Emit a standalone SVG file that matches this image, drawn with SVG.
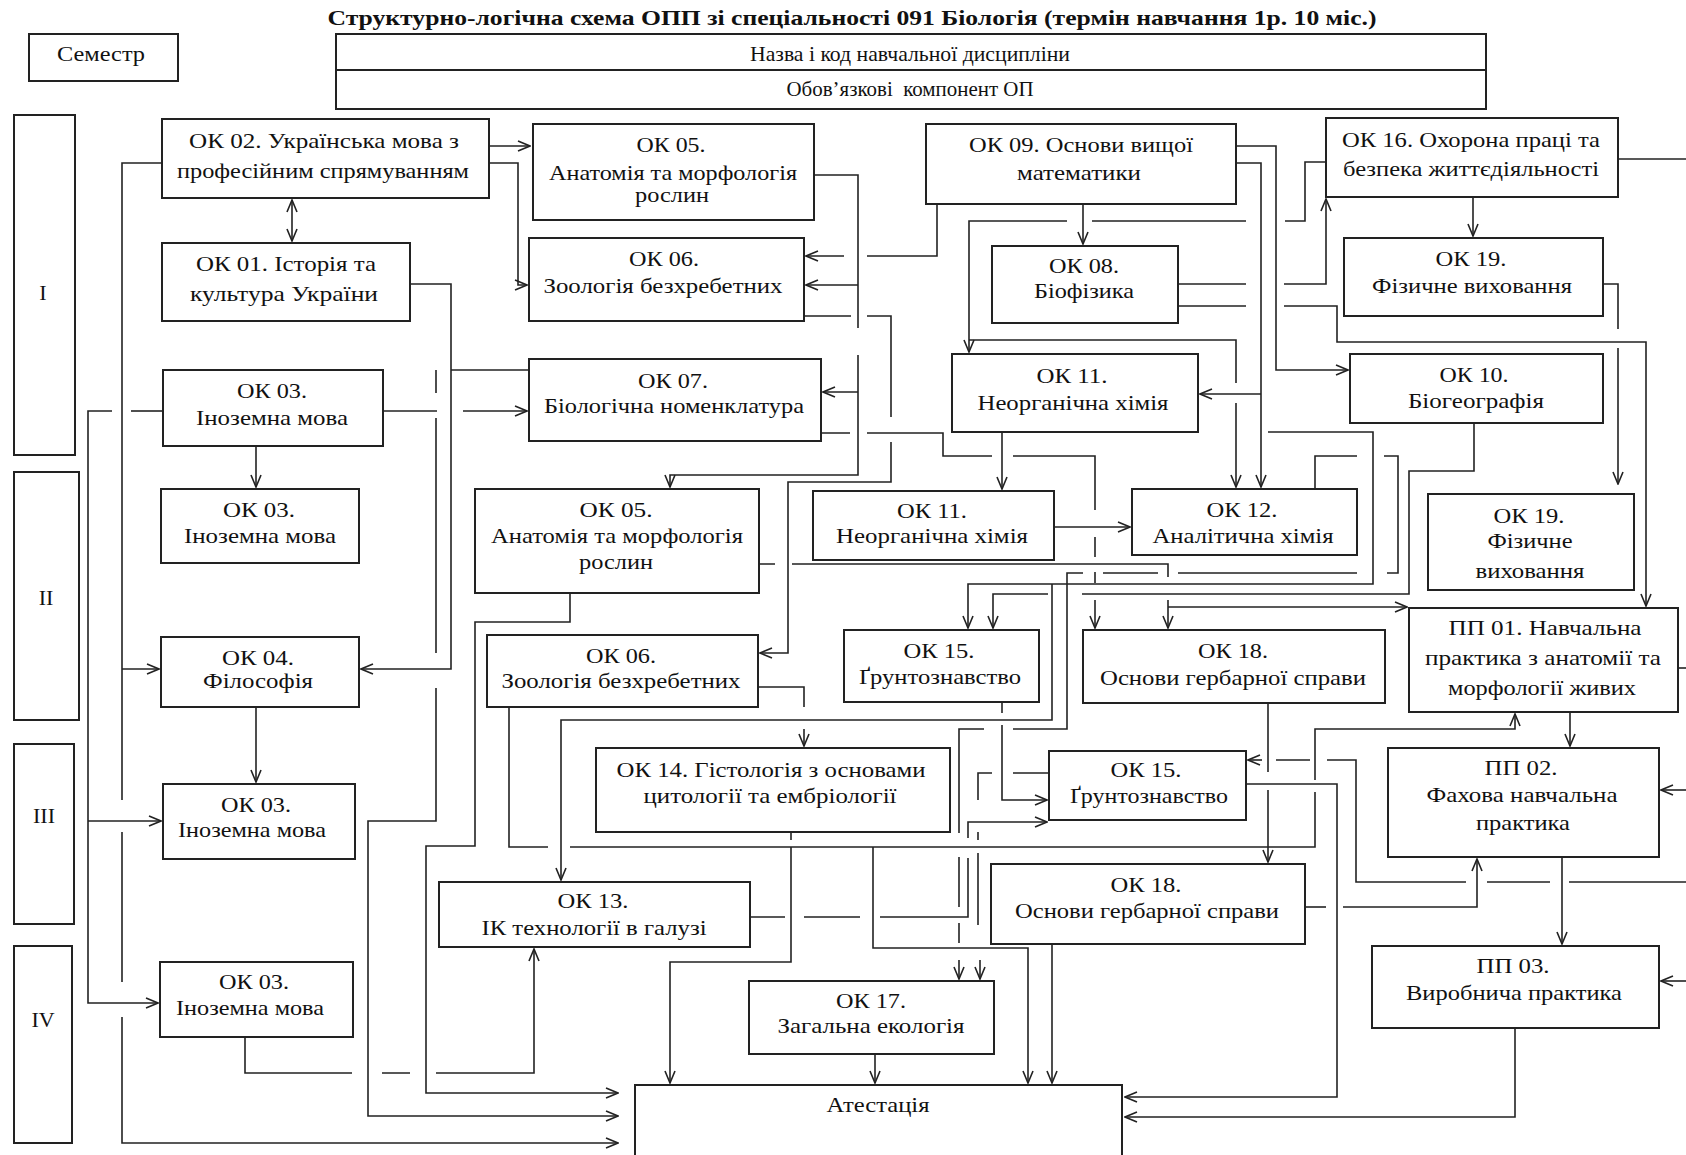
<svg xmlns="http://www.w3.org/2000/svg" width="1686" height="1155" viewBox="0 0 1686 1155">
<defs>
<style>
.b{fill:#fff;stroke:#222;stroke-width:2}
.t{font-family:"Liberation Serif","Times New Roman",serif;font-size:22px;fill:#111;text-anchor:middle}
.h{font-weight:bold}
.c{fill:none;stroke:#222;stroke-width:1.6}
.a{marker-end:url(#ar)}
</style>
<marker id="ar" viewBox="0 0 14 12" refX="13" refY="6" markerWidth="14" markerHeight="12" markerUnits="userSpaceOnUse" orient="auto-start-reverse"><path d="M1,1 L13,6 L1,11" fill="none" stroke="#222" stroke-width="1.6"/></marker>
</defs>
<rect width="1686" height="1155" fill="#fff"/>
<text class="t h" x="852" y="25" textLength="1049" lengthAdjust="spacingAndGlyphs">Структурно-логічна схема ОПП зі спеціальності 091 Біологія (термін навчання 1р. 10 міс.)</text>
<g id="semestr"><rect class="b" x="29" y="34" width="149" height="47"/><text class="t" x="101" y="61" textLength="88" lengthAdjust="spacingAndGlyphs">Семестр</text></g>
<g id="header"><rect class="b" x="336" y="34" width="1150" height="75"/><line x1="336" y1="70" x2="1486" y2="70" stroke="#222" stroke-width="2"/><text class="t" x="910" y="61" textLength="320" lengthAdjust="spacingAndGlyphs">Назва і код навчальної дисципліни</text><text class="t" x="910" y="96" textLength="247" lengthAdjust="spacingAndGlyphs" xml:space="preserve">Обов’язкові  компонент ОП</text></g>
<g id="sem1"><rect class="b" x="14" y="115" width="61" height="340"/><text class="t" x="43" y="300">I</text></g>
<g id="sem2"><rect class="b" x="14" y="472" width="65" height="248"/><text class="t" x="46" y="605">II</text></g>
<g id="sem3"><rect class="b" x="14" y="744" width="60" height="180"/><text class="t" x="44" y="823">III</text></g>
<g id="sem4"><rect class="b" x="14" y="946" width="58" height="197"/><text class="t" x="43" y="1027">IV</text></g>
<g id="ok02"><rect class="b" x="162" y="119" width="327" height="79"/><text class="t" x="324" y="148" textLength="270" lengthAdjust="spacingAndGlyphs">ОК 02. Українська мова з</text><text class="t" x="323" y="178" textLength="292" lengthAdjust="spacingAndGlyphs">професійним спрямуванням</text></g>
<g id="ok01"><rect class="b" x="162" y="243" width="248" height="78"/><text class="t" x="286" y="271" textLength="180" lengthAdjust="spacingAndGlyphs">ОК 01. Історія та</text><text class="t" x="284" y="301" textLength="188" lengthAdjust="spacingAndGlyphs">культура України</text></g>
<g id="ok05a"><rect class="b" x="533" y="124" width="281" height="96"/><text class="t" x="671" y="152" textLength="69" lengthAdjust="spacingAndGlyphs">ОК 05.</text><text class="t" x="673" y="180" textLength="248" lengthAdjust="spacingAndGlyphs">Анатомія та морфологія</text><text class="t" x="672" y="202" textLength="74" lengthAdjust="spacingAndGlyphs">рослин</text></g>
<g id="ok06a"><rect class="b" x="529" y="238" width="275" height="83"/><text class="t" x="664" y="266" textLength="70" lengthAdjust="spacingAndGlyphs">ОК 06.</text><text class="t" x="663" y="293" textLength="239" lengthAdjust="spacingAndGlyphs">Зоологія безхребетних</text></g>
<g id="ok07a"><rect class="b" x="529" y="359" width="292" height="82"/><text class="t" x="673" y="388" textLength="70" lengthAdjust="spacingAndGlyphs">ОК 07.</text><text class="t" x="674" y="413" textLength="260" lengthAdjust="spacingAndGlyphs">Біологічна номенклатура</text></g>
<g id="ok09"><rect class="b" x="926" y="124" width="310" height="80"/><text class="t" x="1081" y="152" textLength="224" lengthAdjust="spacingAndGlyphs">ОК 09. Основи вищої</text><text class="t" x="1079" y="180" textLength="124" lengthAdjust="spacingAndGlyphs">математики</text></g>
<g id="ok08"><rect class="b" x="992" y="246" width="186" height="77"/><text class="t" x="1084" y="273" textLength="70" lengthAdjust="spacingAndGlyphs">ОК 08.</text><text class="t" x="1084" y="298" textLength="100" lengthAdjust="spacingAndGlyphs">Біофізика</text></g>
<g id="ok11a"><rect class="b" x="952" y="354" width="246" height="78"/><text class="t" x="1072" y="383" textLength="71" lengthAdjust="spacingAndGlyphs">ОК 11.</text><text class="t" x="1073" y="410" textLength="191" lengthAdjust="spacingAndGlyphs">Неорганічна хімія</text></g>
<g id="ok16"><rect class="b" x="1326" y="118" width="292" height="79"/><text class="t" x="1471" y="147" textLength="258" lengthAdjust="spacingAndGlyphs">ОК 16. Охорона праці та</text><text class="t" x="1471" y="176" textLength="256" lengthAdjust="spacingAndGlyphs">безпека життєдіяльності</text></g>
<g id="ok19a"><rect class="b" x="1344" y="238" width="259" height="78"/><text class="t" x="1471" y="266" textLength="71" lengthAdjust="spacingAndGlyphs">ОК 19.</text><text class="t" x="1472" y="293" textLength="200" lengthAdjust="spacingAndGlyphs">Фізичне виховання</text></g>
<g id="ok10"><rect class="b" x="1350" y="354" width="253" height="69"/><text class="t" x="1474" y="382" textLength="69" lengthAdjust="spacingAndGlyphs">ОК 10.</text><text class="t" x="1476" y="408" textLength="136" lengthAdjust="spacingAndGlyphs">Біогеографія</text></g>
<g id="ok03a"><rect class="b" x="163" y="370" width="220" height="76"/><text class="t" x="272" y="398" textLength="70" lengthAdjust="spacingAndGlyphs">ОК 03.</text><text class="t" x="272" y="425" textLength="152" lengthAdjust="spacingAndGlyphs">Іноземна мова</text></g>
<g id="ok03b"><rect class="b" x="161" y="489" width="198" height="74"/><text class="t" x="259" y="517" textLength="72" lengthAdjust="spacingAndGlyphs">ОК 03.</text><text class="t" x="260" y="543" textLength="152" lengthAdjust="spacingAndGlyphs">Іноземна мова</text></g>
<g id="ok04"><rect class="b" x="161" y="637" width="198" height="70"/><text class="t" x="258" y="665" textLength="72" lengthAdjust="spacingAndGlyphs">ОК 04.</text><text class="t" x="258" y="688" textLength="110" lengthAdjust="spacingAndGlyphs">Філософія</text></g>
<g id="ok05b"><rect class="b" x="475" y="489" width="284" height="104"/><text class="t" x="616" y="517" textLength="73" lengthAdjust="spacingAndGlyphs">ОК 05.</text><text class="t" x="617" y="543" textLength="252" lengthAdjust="spacingAndGlyphs">Анатомія та морфологія</text><text class="t" x="616" y="569" textLength="74" lengthAdjust="spacingAndGlyphs">рослин</text></g>
<g id="ok11b"><rect class="b" x="813" y="491" width="241" height="69"/><text class="t" x="932" y="518" textLength="70" lengthAdjust="spacingAndGlyphs">ОК 11.</text><text class="t" x="932" y="543" textLength="192" lengthAdjust="spacingAndGlyphs">Неорганічна хімія</text></g>
<g id="ok12"><rect class="b" x="1132" y="489" width="225" height="66"/><text class="t" x="1242" y="517" textLength="71" lengthAdjust="spacingAndGlyphs">ОК 12.</text><text class="t" x="1243" y="543" textLength="181" lengthAdjust="spacingAndGlyphs">Аналітична хімія</text></g>
<g id="ok19b"><rect class="b" x="1428" y="494" width="206" height="96"/><text class="t" x="1529" y="523" textLength="71" lengthAdjust="spacingAndGlyphs">ОК 19.</text><text class="t" x="1530" y="548" textLength="85" lengthAdjust="spacingAndGlyphs">Фізичне</text><text class="t" x="1530" y="578" textLength="109" lengthAdjust="spacingAndGlyphs">виховання</text></g>
<g id="ok06b"><rect class="b" x="487" y="635" width="271" height="72"/><text class="t" x="621" y="663" textLength="70" lengthAdjust="spacingAndGlyphs">ОК 06.</text><text class="t" x="621" y="688" textLength="239" lengthAdjust="spacingAndGlyphs">Зоологія безхребетних</text></g>
<g id="ok15a"><rect class="b" x="844" y="630" width="195" height="72"/><text class="t" x="939" y="658" textLength="71" lengthAdjust="spacingAndGlyphs">ОК 15.</text><text class="t" x="940" y="684" textLength="162" lengthAdjust="spacingAndGlyphs">Ґрунтознавство</text></g>
<g id="ok18a"><rect class="b" x="1083" y="630" width="302" height="73"/><text class="t" x="1233" y="658" textLength="70" lengthAdjust="spacingAndGlyphs">ОК 18.</text><text class="t" x="1233" y="685" textLength="266" lengthAdjust="spacingAndGlyphs">Основи гербарної справи</text></g>
<g id="pp01"><rect class="b" x="1409" y="608" width="269" height="104"/><text class="t" x="1545" y="635" textLength="193" lengthAdjust="spacingAndGlyphs">ПП 01. Навчальна</text><text class="t" x="1543" y="665" textLength="236" lengthAdjust="spacingAndGlyphs">практика з анатомії та</text><text class="t" x="1542" y="695" textLength="188" lengthAdjust="spacingAndGlyphs">морфології живих</text></g>
<g id="ok14"><rect class="b" x="596" y="748" width="354" height="84"/><text class="t" x="771" y="777" textLength="309" lengthAdjust="spacingAndGlyphs">ОК 14. Гістологія з основами</text><text class="t" x="770" y="803" textLength="253" lengthAdjust="spacingAndGlyphs">цитології та ембріології</text></g>
<g id="ok15b"><rect class="b" x="1049" y="751" width="197" height="69"/><text class="t" x="1146" y="777" textLength="71" lengthAdjust="spacingAndGlyphs">ОК 15.</text><text class="t" x="1149" y="803" textLength="158" lengthAdjust="spacingAndGlyphs">Ґрунтознавство</text></g>
<g id="pp02"><rect class="b" x="1388" y="748" width="271" height="109"/><text class="t" x="1521" y="775" textLength="73" lengthAdjust="spacingAndGlyphs">ПП 02.</text><text class="t" x="1522" y="802" textLength="191" lengthAdjust="spacingAndGlyphs">Фахова навчальна</text><text class="t" x="1523" y="830" textLength="94" lengthAdjust="spacingAndGlyphs">практика</text></g>
<g id="ok03c"><rect class="b" x="163" y="784" width="192" height="75"/><text class="t" x="256" y="812" textLength="70" lengthAdjust="spacingAndGlyphs">ОК 03.</text><text class="t" x="252" y="837" textLength="148" lengthAdjust="spacingAndGlyphs">Іноземна мова</text></g>
<g id="ok13"><rect class="b" x="439" y="882" width="311" height="65"/><text class="t" x="593" y="908" textLength="71" lengthAdjust="spacingAndGlyphs">ОК 13.</text><text class="t" x="594" y="935" textLength="225" lengthAdjust="spacingAndGlyphs">ІК технології в галузі</text></g>
<g id="ok18b"><rect class="b" x="991" y="864" width="314" height="80"/><text class="t" x="1146" y="892" textLength="71" lengthAdjust="spacingAndGlyphs">ОК 18.</text><text class="t" x="1147" y="918" textLength="264" lengthAdjust="spacingAndGlyphs">Основи гербарної справи</text></g>
<g id="ok03d"><rect class="b" x="160" y="962" width="193" height="75"/><text class="t" x="254" y="989" textLength="70" lengthAdjust="spacingAndGlyphs">ОК 03.</text><text class="t" x="250" y="1015" textLength="148" lengthAdjust="spacingAndGlyphs">Іноземна мова</text></g>
<g id="ok17"><rect class="b" x="749" y="981" width="245" height="73"/><text class="t" x="871" y="1008" textLength="70" lengthAdjust="spacingAndGlyphs">ОК 17.</text><text class="t" x="871" y="1033" textLength="187" lengthAdjust="spacingAndGlyphs">Загальна екологія</text></g>
<g id="pp03"><rect class="b" x="1372" y="946" width="287" height="82"/><text class="t" x="1513" y="973" textLength="73" lengthAdjust="spacingAndGlyphs">ПП 03.</text><text class="t" x="1514" y="1000" textLength="216" lengthAdjust="spacingAndGlyphs">Виробнича практика</text></g>
<g id="atest"><rect class="b" x="635" y="1085" width="487" height="80"/><text class="t" x="878" y="1112" textLength="103" lengthAdjust="spacingAndGlyphs">Атестація</text></g>
<g id="connectors" class="c">
<path d="M292,200 V241" style="marker-start:url(#ar);marker-end:url(#ar)"/>
<path class="a" d="M489,146 H530"/>
<path class="a" d="M489,163 H518 V285 H527"/>
<path d="M162,163 H122 V800 M122,832 V982"/>
<path class="a" d="M122,1017 V1143 H618"/>
<path class="a" d="M122,669 H159"/>
<path class="a" d="M410,284 H451 V669 H361"/>
<path d="M451,370 H529"/>
<path d="M436,370 V393 M436,418 V653"/>
<path class="a" d="M436,688 V821 H368 V1116 H618"/>
<path d="M163,411 H131"/>
<path class="a" d="M112,411 H88 V1003 H158"/>
<path class="a" d="M88,821 H161"/>
<path d="M383,411 H437"/>
<path class="a" d="M463,411 H527"/>
<path class="a" d="M256,446 V487"/>
<path class="a" d="M256,707 V782"/>
<path d="M814,175 H858 V328"/>
<path class="a" d="M858,355 V475 H670 V487"/>
<path class="a" d="M858,285 H806"/>
<path class="a" d="M858,392 H823"/>
<path d="M937,204 V256 H867"/>
<path class="a" d="M844,256 H806"/>
<path d="M804,316 H851 M867,316 H891 V417"/>
<path class="a" d="M891,442 V482 H788 V653 H760"/>
<path d="M821,433 H850 M867,433 H943 V456 H992 M1013,456 H1095 V510 M1095,537 V557 M1095,572 V583"/>
<path class="a" d="M1095,600 V628"/>
<path d="M759,564 H775 M792,564 H1168 V577"/>
<path class="a" d="M1168,600 V628"/>
<path class="a" d="M1168,607 H1407"/>
<path class="a" d="M570,593 V622 H475 V846 H426 V1093 H618"/>
<path d="M509,707 V847 H548 M570,847 H1315 V792"/>
<path class="a" d="M1315,780 V729 H1515 V714"/>
<path class="a" d="M873,847 V948 H1028 V1083"/>
<path d="M758,687 H804 V707"/>
<path class="a" d="M804,729 V746"/>
<path class="a" d="M1052,584 V720 H561 V880"/>
<path d="M791,832 V840"/>
<path class="a" d="M791,847 V962 H670 V1083"/>
<path d="M750,917 H785 M804,917 H860 M880,917 H968 V858"/>
<path class="a" d="M968,838 V822 H1047"/>
<path d="M245,1037 V1073 H352 M382,1073 H410"/>
<path class="a" d="M436,1073 H534 V949"/>
<path class="a" d="M875,1054 V1083"/>
<path class="a" d="M1052,944 V1083"/>
<path class="a" d="M1083,204 V244"/>
<path d="M1326,162 H1305 V221 H1285 M1246,221 H1092"/>
<path class="a" d="M1067,221 H969 V352"/>
<path d="M969,340 H1236 V383"/>
<path class="a" d="M1236,403 V487"/>
<path class="a" d="M1236,163 H1261 V487"/>
<path class="a" d="M1261,394 H1200"/>
<path class="a" d="M1236,146 H1276 V370 H1348"/>
<path d="M1178,284 H1246"/>
<path class="a" d="M1284,284 H1326 V199"/>
<path d="M1178,306 H1246"/>
<path class="a" d="M1284,306 H1337 V342 H1646 V606"/>
<path class="a" d="M1473,197 V236"/>
<path d="M1618,159 H1686"/>
<path d="M1603,284 H1618 V329"/>
<path class="a" d="M1618,348 V484"/>
<path class="a" d="M1002,432 V489"/>
<path class="a" d="M1054,527 H1130"/>
<path class="a" d="M1268,432 H1373 V584 H968 V628"/>
<path d="M1315,490 V456 H1357 M1384,456 H1398 V573 H1387 M1357,573 H1178 M1158,573 H1103 M1083,573 H1067 V729 H1013 M984,729 H959 V833 M959,857 V907 M959,923 V943"/>
<path class="a" d="M959,960 V979"/>
<path d="M1474,423 V471 H1409 V594 H1082"/>
<path class="a" d="M1048,594 H993 V628"/>
<path d="M1002,702 V713"/>
<path class="a" d="M1002,725 V800 H1047"/>
<path d="M1049,773 H1013 M992,773 H978 V800 M978,832 V840 M978,853 V925"/>
<path class="a" d="M980,960 V979"/>
<path d="M1268,703 V772"/>
<path class="a" d="M1268,790 V862"/>
<path class="a" d="M1246,784 H1337 V1097 H1125"/>
<path d="M1686,882 H1569 M1550,882 H1487 M1466,882 H1356 V760 H1327 M1310,760 H1276"/>
<path class="a" d="M1262,760 H1248"/>
<path d="M1305,907 H1326"/>
<path class="a" d="M1343,907 H1477 V859"/>
<path class="a" d="M1570,712 V746"/>
<path class="a" d="M1562,857 V944"/>
<path d="M1678,668 H1686"/>
<path class="a" d="M1686,790 H1661"/>
<path class="a" d="M1686,981 H1661"/>
<path class="a" d="M1515,1028 V1117 H1125"/>
</g>
</svg>
